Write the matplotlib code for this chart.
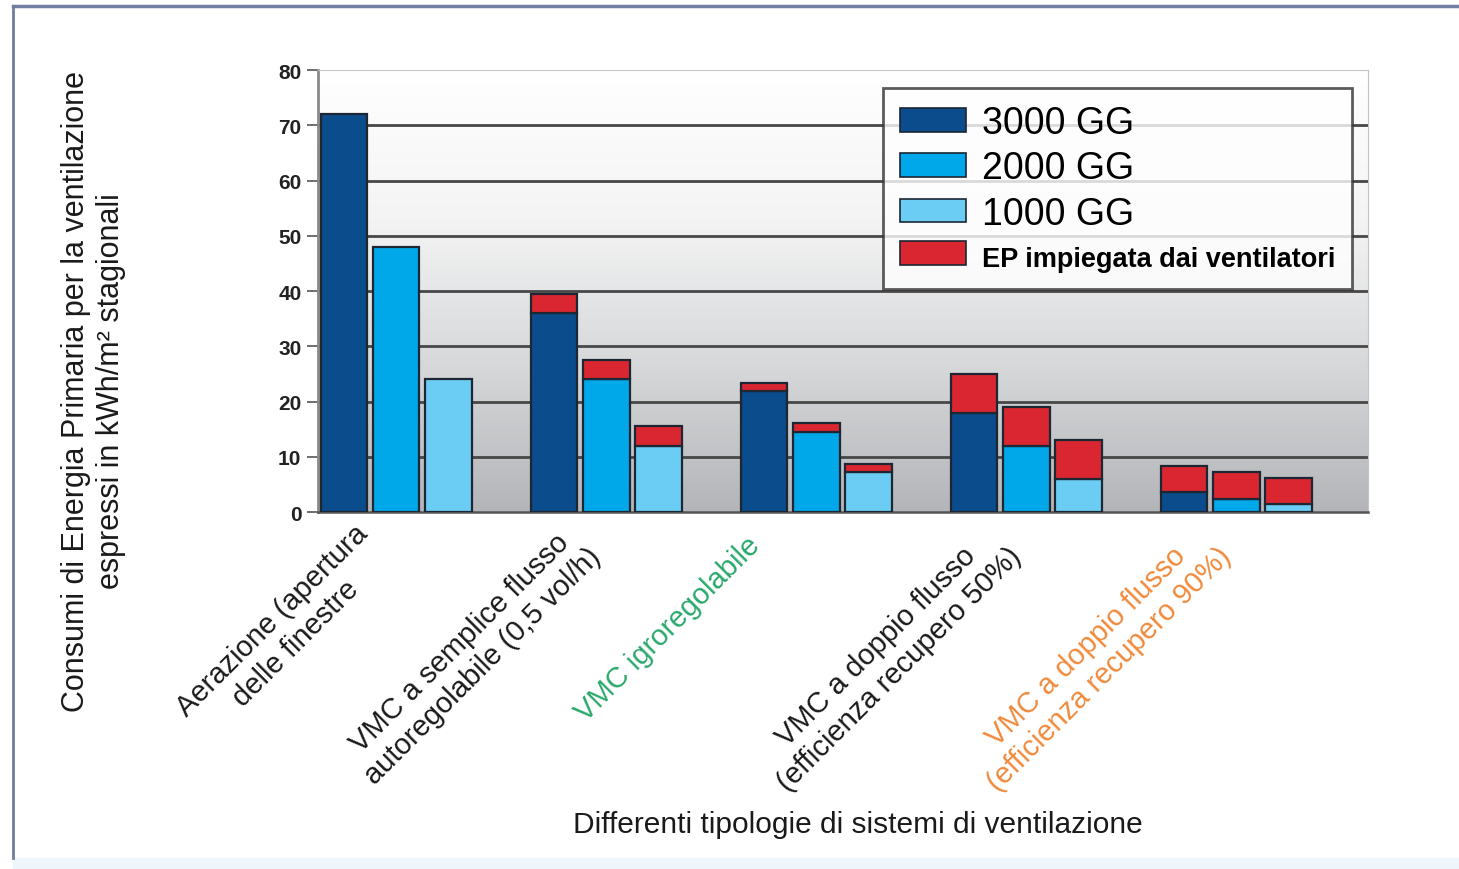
import numpy as np
import matplotlib
matplotlib.use("Agg")
import matplotlib.pyplot as plt
from matplotlib.patches import Rectangle, Patch
from matplotlib.lines import Line2D
from matplotlib.transforms import ScaledTranslation

plt.rcParams["font.family"] = ["Liberation Sans", "DejaVu Sans"]

# Ventilation system types (x categories) and their label colours
categories = [
    "Aerazione (apertura\ndelle finestre",
    "VMC a semplice flusso\nautoregolabile (0,5 vol/h)",
    "VMC igroregolabile",
    "VMC a doppio flusso\n(efficienza recupero 50%)",
    "VMC a doppio flusso\n(efficienza recupero 90%)",
]
label_colors = ["#1a1a1a", "#1a1a1a", "#2aa86a", "#1a1a1a", "#f08a3c"]

# Primary energy for ventilation, kWh/m2 per season, by degree-days
gg_3000 = [72, 36, 22, 18, 3.6]
gg_2000 = [48, 24, 14.5, 12, 2.4]
gg_1000 = [24, 12, 7.3, 6, 1.4]
# Fan energy stacked on top (same order: 3000, 2000, 1000 GG)
fan_3000 = [0, 3.5, 1.4, 7, 4.8]
fan_2000 = [0, 3.5, 1.6, 7, 4.9]
fan_1000 = [0, 3.5, 1.4, 7, 4.7]

series_labels = ["3000 GG", "2000 GG", "1000 GG", "EP impiegata dai ventilatori"]
colors = ["#0b4c8c", "#00a8ea", "#6bcdf4", "#da2630"]
edge = "#1c2733"

fig = plt.figure(figsize=(14.59, 8.70), dpi=100)
ax = fig.add_axes([0.218, 0.4103, 0.7197, 0.508])

# vertical white-to-grey gradient behind the bars
grad = np.linspace(0, 1, 256).reshape(-1, 1)
cmap = matplotlib.colors.LinearSegmentedColormap.from_list(
    "bg", ["#b3b5b8", "#d6d8da", "#f4f4f4", "#ffffff"])
ax.imshow(grad, extent=(0, 5, 0, 80), origin="lower", aspect="auto",
          cmap=cmap, zorder=0)

x = np.arange(len(categories))
step, width = 0.249, 0.222
bases = [gg_3000, gg_2000, gg_1000]
fans = [fan_3000, fan_2000, fan_1000]
for i in range(3):
    left = x + 0.012 + i * step
    ax.bar(left, bases[i], width=width, align="edge", color=colors[i],
           edgecolor=edge, linewidth=1.6, zorder=3)
    has_fan = np.array(fans[i]) > 0
    ax.bar(left[has_fan], np.array(fans[i])[has_fan], width=width, align="edge",
           bottom=np.array(bases[i])[has_fan], color=colors[3],
           edgecolor=edge, linewidth=1.6, zorder=3)

ax.set_xlim(0, 5)
ax.set_ylim(0, 80)
ax.set_yticks(range(0, 81, 10))
ax.tick_params(axis="y", labelsize=15, length=8, width=1.2, color="#555555",
               pad=4, labelcolor="#222222")
for t in ax.get_yticklabels():
    t.set_fontweight("bold")
for y in range(10, 80, 10):
    ax.axhline(y, color="#474747", lw=2.0, zorder=1)

ax.spines["left"].set_color("#8a8a8a")
ax.spines["left"].set_linewidth(2)
ax.spines["top"].set_color("#c4c4c4")
ax.spines["right"].set_color("#c4c4c4")
ax.spines["bottom"].set_color("#555555")
ax.spines["bottom"].set_linewidth(1.8)

# category labels, rotated 45 degrees
ax.set_xticks(x + 0.17)
ax.set_xticklabels(categories, rotation=45, ha="right", va="top",
                   rotation_mode="anchor", fontsize=21, multialignment="center")
ax.tick_params(axis="x", length=0, pad=5)
for t, c in zip(ax.get_xticklabels(), label_colors):
    t.set_color(c)
# the single-line label sits a little lower and further left
lbl = ax.get_xticklabels()[2]
lbl.set_transform(lbl.get_transform()
                  + ScaledTranslation(-0.28, -0.12, fig.dpi_scale_trans))

fig.text(0.064, 0.55,
         "Consumi di Energia Primaria per la ventilazione\n"
         "espressi in kWh/m\u00b2 stagionali",
         rotation=90, ha="center", va="center", fontsize=22,
         multialignment="center", color="#1a1a1a")
fig.text(0.588, 0.052, "Differenti tipologie di sistemi di ventilazione",
         ha="center", va="center", fontsize=21.5, color="#1a1a1a")

handles = [Patch(facecolor=c, edgecolor=edge, linewidth=1.2) for c in colors]
leg = fig.legend(handles, series_labels, loc="upper right",
                 bbox_to_anchor=(0.9267, 0.8977), frameon=True, fancybox=False,
                 fontsize=27, handlelength=1.76, handleheight=0.6,
                 handletextpad=0.43, labelspacing=0.25, borderpad=0.45,
                 borderaxespad=0)
leg.get_frame().set_edgecolor("#333333")
leg.get_frame().set_linewidth(2)
leg.get_texts()[3].set_fontsize(19.5)
leg.get_texts()[3].set_fontweight("bold")

# outer frame of the figure (left and top edges)
fig.add_artist(Line2D([0.009, 0.009], [0.013, 0.992], color="#6f7fa0",
                      lw=2, transform=fig.transFigure))
fig.add_artist(Line2D([0.009, 1.0], [0.992, 0.992], color="#6f7fa0",
                      lw=2.5, transform=fig.transFigure))
fig.add_artist(Rectangle((0.009, 0.0), 0.991, 0.013, color="#eef6fb",
                         transform=fig.transFigure, zorder=-1))

fig.savefig("out.png", dpi=100)
